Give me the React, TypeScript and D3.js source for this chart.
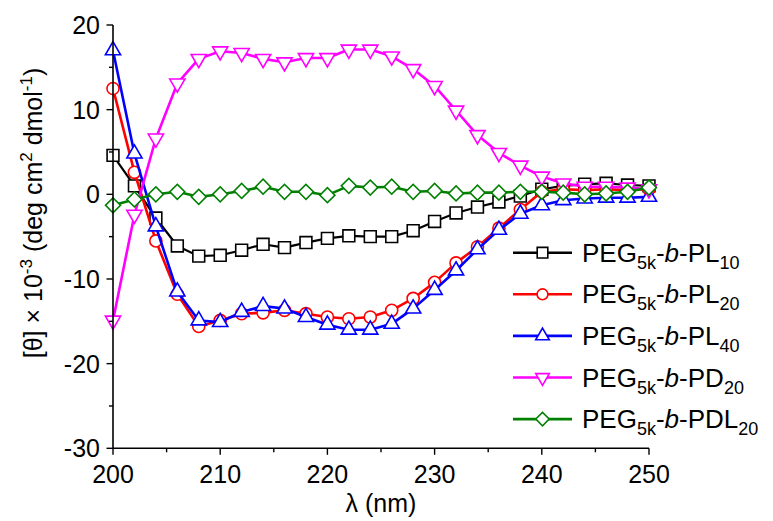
import React from 'react';
import * as d3 from 'd3';

// wavelength (nm), one reading every 2 nm
const wavelengths = [200, 202, 204, 206, 208, 210, 212, 214, 216, 218, 220, 222, 224, 226, 228, 230, 232, 234, 236, 238, 240, 242, 244, 246, 248, 250];

// [θ] x 10^-3
const pl10 = [4.6, 1.0, -2.8, -6.1, -7.3, -7.2, -6.6, -5.9, -6.3, -5.7, -5.2, -4.9, -5.0, -5.0, -4.3, -3.2, -2.2, -1.5, -0.9, -0.2, 0.6, 1.0, 1.2, 1.3, 1.1, 1.0];
const pl20 = [12.5, 2.6, -5.5, -11.8, -15.6, -14.9, -14.1, -14.0, -13.7, -14.1, -14.5, -14.7, -14.5, -13.7, -12.3, -10.4, -8.1, -6.2, -4.0, -1.8, 0.3, 0.6, 0.5, 0.6, 0.5, 0.6];
const pl40 = [17.0, 4.8, -3.8, -11.5, -14.9, -15.1, -13.9, -13.2, -13.5, -14.5, -15.4, -16.0, -16.0, -15.3, -13.5, -11.3, -9.0, -6.5, -4.2, -2.3, -1.3, -0.7, -0.5, -0.4, -0.4, -0.3];
const pd20 = [-14.9, -2.4, 6.6, 13.1, 16.0, 16.9, 16.7, 16.0, 15.6, 16.1, 16.1, 17.1, 17.1, 16.3, 14.8, 12.8, 9.9, 7.0, 4.9, 3.4, 2.1, 1.3, 0.9, 0.9, 0.8, 0.6];
const pdl20 = [-1.3, -0.6, 0.0, 0.3, -0.3, 0.0, 0.4, 0.9, 0.3, 0.3, -0.1, 1.0, 0.8, 0.9, 0.3, 0.4, 0.1, 0.2, 0.2, 0.3, 0.3, 0.2, 0.0, 0.1, 0.3, 0.8];

const xTicks = [200, 210, 220, 230, 240, 250];
const yTicks = [-30, -20, -10, 0, 10, 20];

const series = [
  { block: 'PL', sub: '10', values: pl10, color: '#000000', marker: 'square' },
  { block: 'PL', sub: '20', values: pl20, color: '#FF0000', marker: 'circle' },
  { block: 'PL', sub: '40', values: pl40, color: '#0000FF', marker: 'triangleUp' },
  { block: 'PD', sub: '20', values: pd20, color: '#FF00FF', marker: 'triangleDown' },
  { block: 'PDL', sub: '20', values: pdl20, color: '#008000', marker: 'diamond' },
];

const font = 'Liberation Sans, Arial, sans-serif';

const markerPath = (kind: string, scale = 1) => {
  if (kind === 'square') return d3.symbol(d3.symbolSquare, 140 * scale)();
  if (kind === 'circle') return d3.symbol(d3.symbolCircle, 115 * scale)();
  if (kind === 'triangleUp' || kind === 'triangleDown') return d3.symbol(d3.symbolTriangle, 100 * scale)();
  return d3.symbol(d3.symbolSquare, 112 * scale)();
};
const markerRotate = (kind: string) => kind === 'triangleDown' ? 180 : kind === 'diamond' ? 45 : 0;

const App = () => {
  const width = 773;
  const height = 521;

  const x = d3.scaleLinear().domain([200, 250]).range([113, 649]);
  const y = d3.scaleLinear().domain([-30, 20]).range([448.3, 25]);
  const xMinor = d3.range(200, 251, 5);
  const yMinor = d3.range(-30, 21, 5);

  const line = d3.line<number>()
    .x((d, i) => x(wavelengths[i]))
    .y(d => y(d));

  const legendY = (i: number) => 252.7 + i * 41.6;

  return (
    <svg width={width} height={height} style={{ position: 'absolute', left: 0, top: 0, background: '#fff' }} fontFamily={font}>
      {/* curves */}
      {series.map((s, si) =>
        <g key={`s-${si}`}>
          <path d={line(s.values) || ''} fill='none' stroke={s.color} strokeWidth={si === 0 ? 2.2 : 2.6} strokeLinejoin='round' />
          {s.values.map((v, i) =>
            <path key={`m-${si}-${i}`} d={markerPath(s.marker) || ''}
              transform={`translate(${x(wavelengths[i])},${y(v)}) rotate(${markerRotate(s.marker)})`}
              fill='#fff' stroke={s.color} strokeWidth={1.6} />
          )}
        </g>
      )}

      {/* axes */}
      <line x1={x(200)} x2={x(250)} y1={y(-30)} y2={y(-30)} stroke='#000' strokeWidth={1.6} />
      <line x1={x(200)} x2={x(200)} y1={y(-30) + 0.8} y2={y(20)} stroke='#000' strokeWidth={1.6} />
      {xMinor.map(d =>
        <line key={`xt-${d}`} x1={x(d)} x2={x(d)} y1={y(-30)} y2={y(-30) + (d % 10 === 0 ? 6.5 : 4)} stroke='#000' strokeWidth={1.4} />
      )}
      {yMinor.map(d =>
        <line key={`yt-${d}`} x1={x(200)} x2={x(200) - (d % 10 === 0 ? 6.5 : 4)} y1={y(d)} y2={y(d)} stroke='#000' strokeWidth={1.4} />
      )}
      {xTicks.map(d =>
        <text key={`xl-${d}`} x={x(d)} y={483} textAnchor='middle' fontSize={25} fill='#000'>{d}</text>
      )}
      {yTicks.map(d =>
        <text key={`yl-${d}`} x={100} y={y(d) + 9} textAnchor='end' fontSize={25} fill='#000'>{d}</text>
      )}

      <text x={381} y={512} textAnchor='middle' fontSize={25} fill='#000'>λ (nm)</text>
      <text transform='translate(42,213) rotate(-90)' textAnchor='middle' fontSize={25} fill='#000'>
        [θ] × 10<tspan fontSize={17} dy={-10}>-3</tspan><tspan dy={10}> (deg cm</tspan><tspan fontSize={17} dy={-10}>2</tspan><tspan dy={10}> dmol</tspan><tspan fontSize={17} dy={-10}>-1</tspan><tspan dy={10}>)</tspan>
      </text>

      {/* legend */}
      {series.map((s, i) =>
        <g key={`lg-${i}`}>
          <line x1={513} x2={572} y1={legendY(i)} y2={legendY(i)} stroke={s.color} strokeWidth={2.6} />
          <path d={markerPath(s.marker, 0.8) || ''} transform={`translate(542.5,${legendY(i)}) rotate(${markerRotate(s.marker)})`}
            fill='#fff' stroke={s.color} strokeWidth={1.6} />
          <text x={582} y={legendY(i) + 9} fontSize={26} fill='#000'>
            PEG<tspan fontSize={18} dy={7}>5k</tspan><tspan dy={-7}>-</tspan><tspan fontStyle='italic'>b</tspan>-{s.block}<tspan fontSize={18} dy={7}>{s.sub}</tspan>
          </text>
        </g>
      )}
    </svg>
  );
};

export default App;
